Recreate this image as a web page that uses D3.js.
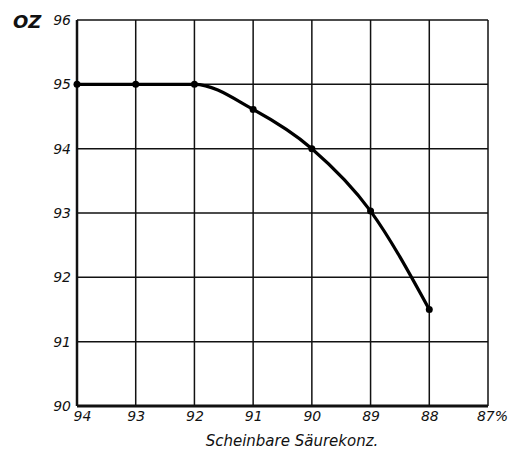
<!DOCTYPE html>
<html><head><meta charset="utf-8">
<script src="https://cdn.jsdelivr.net/npm/d3@7"></script>
<style>body{margin:0;background:#fff}</style>
</head><body>
<svg id="c" width="512" height="450"></svg>
<script>
const xTicks = [94, 93, 92, 91, 90, 89, 88, 87];
const xTickLabels = ["94", "93", "92", "91", "90", "89", "88", "87%"];
const yTicks = [90, 91, 92, 93, 94, 95, 96];
const yTickLabels = ["90", "91", "92", "93", "94", "95", "96"];
const concentration = [94, 93, 92, 91, 90, 89, 88];
const ozValues = [95.0, 95.0, 95.0, 94.61, 94.0, 93.03, 91.5];
const yTitle = "OZ";
const xTitle = "Scheinbare Säurekonz.";

const svg = d3.select("#c");
const L = 77, R = 488, T = 20, B = 406;
const x = d3.scaleLinear().domain([94, 87]).range([L, R]);
const y = d3.scaleLinear().domain([90, 96]).range([B, T]);
const font = "'DejaVu Sans', sans-serif";

const g = svg.append("g");
g.selectAll("line.v").data(xTicks).join("line")
  .attr("x1", d => x(d)).attr("x2", d => x(d)).attr("y1", T).attr("y2", B)
  .attr("stroke", "#111").attr("stroke-width", d => d === 94 ? 2.5 : 1.5);
g.selectAll("line.h").data(yTicks).join("line")
  .attr("x1", L).attr("x2", R).attr("y1", d => y(d)).attr("y2", d => y(d))
  .attr("stroke", "#111").attr("stroke-width", d => d === 90 ? 3 : 1.5);

const yAxis = d3.axisLeft(y).tickValues(yTicks).tickSize(0).tickPadding(6)
  .tickFormat((d, i) => yTickLabels[i]);
const ya = svg.append("g").attr("transform", `translate(${L},0)`).call(yAxis);
ya.select(".domain").remove();
ya.selectAll("text").attr("font-family", font).attr("font-style", "italic")
  .attr("font-size", 14).attr("fill", "#111");

const xAxis = d3.axisBottom(x).tickValues(xTicks).tickSize(0).tickPadding(5)
  .tickFormat((d, i) => xTickLabels[i]);
const xa = svg.append("g").attr("transform", `translate(0,${B})`).call(xAxis);
xa.select(".domain").remove();
xa.selectAll("text").attr("font-family", font).attr("font-style", "italic")
  .attr("font-size", 14).attr("fill", "#111")
  .attr("dx", (d) => d === 94 ? 5 : (d === 87 ? 4 : 0));

svg.append("text").attr("x", 13).attr("y", 28).text(yTitle)
  .attr("font-family", font).attr("font-style", "italic").attr("font-weight", "bold")
  .attr("font-size", 18).attr("fill", "#111");
svg.append("text").attr("x", 292).attr("y", 446).attr("text-anchor", "middle").text(xTitle)
  .attr("font-family", font).attr("font-style", "italic")
  .attr("font-size", 15).attr("fill", "#111");

const pts = concentration.map((c, i) => [c, ozValues[i]]);
const line = d3.line().x(d => x(d[0])).y(d => y(d[1])).curve(d3.curveMonotoneX);
svg.append("path").datum(pts).attr("d", line).attr("fill", "none")
  .attr("stroke", "#000").attr("stroke-width", 3.2);
svg.selectAll("circle").data(pts).join("circle")
  .attr("cx", d => x(d[0])).attr("cy", d => y(d[1])).attr("r", 3.5).attr("fill", "#000");
</script>
</body></html>
